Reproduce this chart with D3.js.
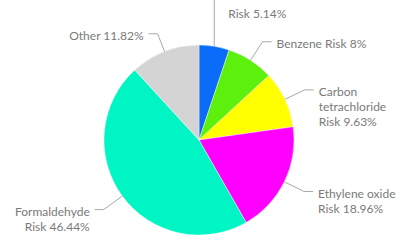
<!DOCTYPE html>
<html>
<head>
<meta charset="utf-8">
<script src="https://cdn.jsdelivr.net/npm/d3@7"></script>
<style>
  body { margin: 0; background: #fff; }
  text { font-family: Lato, "Open Sans", sans-serif; font-size: 12px; fill: #7a7a7a; }
</style>
</head>
<body>
<div id="chart"></div>
<script>
// chart size
const width = 412, height = 247;

// data, clockwise from 12 o'clock
const names = ["", "Benzene", "Carbon tetrachloride", "Ethylene oxide", "Formaldehyde", "Other"];
const values = [5.14, 8, 9.63, 18.96, 46.44, 11.82];
const colors = ["#0a6cf8", "#5cf00c", "#ffff00", "#ff00ff", "#00f5c4", "#d4d4d4"];
// label text lines as shown
const labelLines = [
  ["Risk 5.14%"],
  ["Benzene Risk 8%"],
  ["Carbon", "tetrachloride", "Risk 9.63%"],
  ["Ethylene oxide", "Risk 18.96%"],
  ["Formaldehyde", "Risk 46.44%"],
  ["Other 11.82%"]
];

// label layout: elbow radius, first visible line index, vertical leader
const elbowR = [145, 117, 117, 117, 118, 114];
const firstLine = [1, 0, 0, 0, 0, 0];
const vertical = [true, false, false, false, false, false];

const cx = 199, cy = 140, radius = 95;

const svg = d3.select("#chart")
  .append("svg")
    .attr("width", width)
    .attr("height", height)
  .append("g")
    .attr("transform", "translate(" + cx + "," + cy + ")");

const pie = d3.pie().sort(null).value(d => d);
const arcs = pie(values);

const arc = d3.arc().innerRadius(0).outerRadius(radius);

svg.selectAll("path.slice")
  .data(arcs)
  .enter()
  .append("path")
    .attr("class", "slice")
    .attr("d", arc)
    .attr("fill", (d, i) => colors[i])
    .attr("stroke", "#fff")
    .attr("stroke-width", 0.4);

// point on a circle at the middle angle of a slice
function pointAt(d, r) {
  const a = (d.startAngle + d.endAngle) / 2;
  return [r * Math.sin(a), -r * Math.cos(a)];
}

const hLen = 9, gap = 5, lineH = 15;

arcs.forEach(function(d, i) {
  const a = (d.startAngle + d.endAngle) / 2;
  const side = Math.sin(a) >= 0 ? 1 : -1;
  const p0 = pointAt(d, radius);
  let p1 = pointAt(d, elbowR[i]);
  if (vertical[i]) p1 = [p0[0], p1[1]];
  const p2 = [p1[0] + side * hLen, p1[1]];

  svg.append("polyline")
    .attr("points", [p0, p1, p2].map(p => p.join(",")).join(" "))
    .attr("fill", "none")
    .attr("stroke", "#a8a8a8")
    .attr("stroke-width", 1);

  const t = svg.append("text")
    .attr("text-anchor", side > 0 ? "start" : "end")
    .attr("x", p2[0] + side * gap)
    .attr("y", p1[1] + 2);

  labelLines[i].forEach(function(line, j) {
    t.append("tspan")
      .attr("x", p2[0] + side * gap)
      .attr("y", p1[1] + 2 + (j + firstLine[i]) * lineH)
      .attr("dy", "0.35em")
      .text(line);
  });
});
</script>
</body>
</html>
